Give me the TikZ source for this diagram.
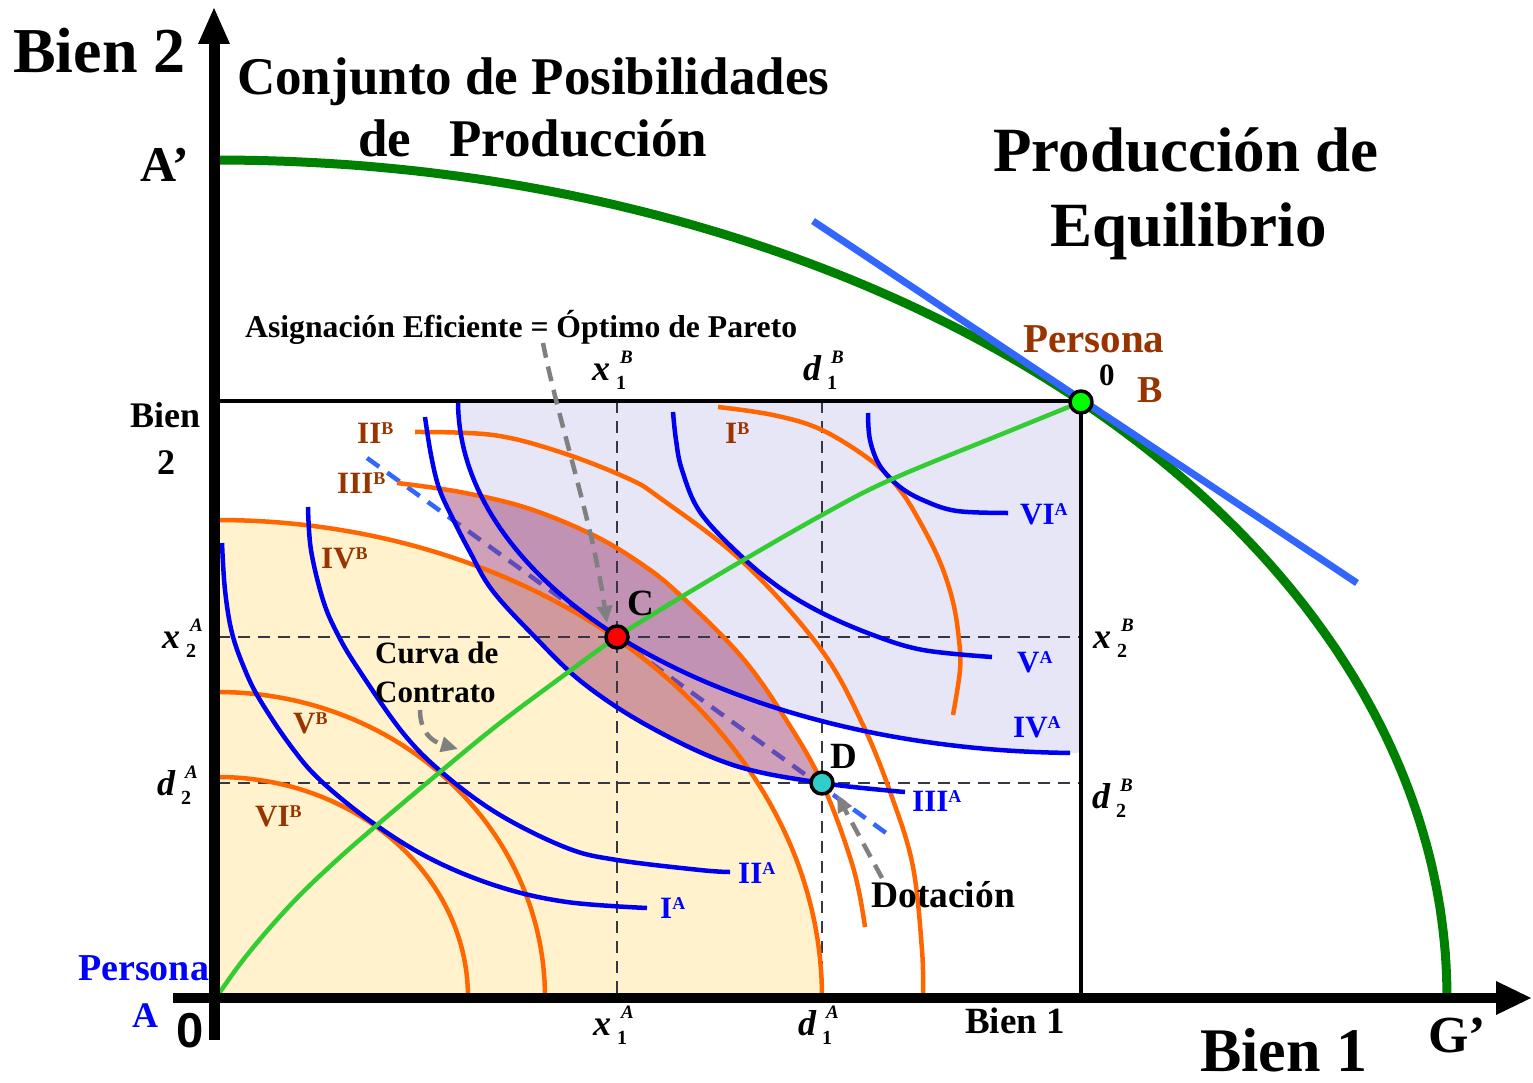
\documentclass[tikz,border=0pt]{standalone}
\usepackage{fontspec}
\setmainfont{Liberation Serif}
\newfontfamily\arialf{Liberation Sans}
\usetikzlibrary{arrows.meta}
\definecolor{orC}{RGB}{255,102,0}
\definecolor{blC}{RGB}{0,0,240}
\definecolor{brC}{RGB}{153,51,0}
\definecolor{lbC}{RGB}{0,0,255}
\definecolor{grC}{RGB}{51,204,51}
\definecolor{ppfC}{RGB}{0,128,0}
\definecolor{tgC}{RGB}{51,102,255}
\definecolor{yelC}{RGB}{255,242,204}
\definecolor{lavC}{RGB}{230,230,246}
\definecolor{lensC}{RGB}{150,45,100}
\definecolor{guideC}{RGB}{55,55,68}
\definecolor{arrC}{RGB}{128,128,128}
\definecolor{cyC}{RGB}{51,204,204}
\newcommand\setfs[1]{\fontsize{#1}{#1}\selectfont}
\newcommand\rlab[2]{\setfs{31}\bfseries #1\raisebox{9pt}{\setfs{18}\bfseries #2}}
\newcommand\vlab[3]{{\setfs{36}\bfseries\itshape #1}\hspace{6pt}\rlap{\hspace{4pt}\raisebox{17pt}{\setfs{19}\bfseries\itshape #2}}\raisebox{-9pt}{\setfs{20}\bfseries #3}}
\begin{document}
\begin{tikzpicture}[x=1pt,y=-1pt,line join=round,
  orc/.style={draw=orC,line width=4.5pt},
  blc/.style={draw=blC,line width=4.5pt},
  sm/.style={smooth,tension=0.6},
  guide/.style={draw=guideC,line width=2.8pt,dash pattern=on 12pt off 8pt},
  garrow/.style={draw=arrC,line width=4.5pt,dash pattern=on 15pt off 9pt,-{Triangle[length=17pt,width=15pt]}},
  ptn/.style={circle,draw=black,line width=3.5pt,minimum size=22pt,inner sep=0pt},
  txt/.style={inner sep=0pt,anchor=base west}]
\useasboundingbox (0,0) rectangle (1533,1083);
% regions
\fill[yelC] (218,997) -- plot[domain=90:0,samples=80] ({218+604*cos(\x)},{997-477*sin(\x)}) -- cycle;
\fill[lavC] (458,401) -- plot[domain=0:89,samples=80] ({1081-623*cos(\x)},{401+352*sin(\x)}) -- (1081,753) -- (1081,401) -- cycle;
% budget line
\coordinate (bl1) at (367,458);
\coordinate (bl2) at (893,838);
\draw[tgC,line width=4.5pt,dash pattern=on 15pt off 10pt] (bl1) -- (bl2);
% lens
\begin{scope}
\clip plot[sm] coordinates {(397,483) (460,492) (527,508) (593,535) (643,565) (680,595) (740,655) (783,715) (822,783) (853,867) (865,927)} -- (865,1083) -- (0,1083) -- (0,483) -- cycle;
\fill[lensC,fill opacity=0.45] plot[sm] coordinates {(425,417) (431,455) (439,488) (452,517) (470,552) (492,590) (533,635) (583,683) (650,727) (733,765) (822,783) (905,792)} -- (1200,792) -- (1200,300) -- (425,300) -- cycle;
\end{scope}
% guides
\draw[guide] (617,401) -- (617,997);
\draw[guide] (822,401) -- (822,997);
\draw[guide] (218,637) -- (1081,637);
\draw[guide] (218,783) -- (1081,783);
% orange curves (B)
\draw[orc] plot[sm] coordinates {(718,407) (773,415) (822,430) (873,462) (900,490) (920,522) (940,562) (953,602) (959,640) (960,670) (953,715)};
\draw[orc] plot[sm] coordinates {(415,432) (493,435) (560,452) (627,478) (660,498) (743,562) (820,648) (863,725) (893,800) (913,867) (922,950) (923,993)};
\draw[orc] plot[sm] coordinates {(397,483) (460,492) (527,508) (593,535) (643,565) (680,595) (740,655) (783,715) (822,783) (853,867) (865,927)};
\draw[orc] plot[domain=90:0,samples=80] ({218+604*cos(\x)},{997-477*sin(\x)});
\draw[orc] plot[domain=90:0,samples=60] ({218+327*cos(\x)},{997-305*sin(\x)});
\draw[orc] plot[domain=90:0,samples=60] ({218+250*cos(\x)},{997-220*sin(\x)});
% blue curves (A)
\draw[blc] plot[sm] coordinates {(222,543) (225,590) (232,633) (245,670) (260,700) (290,745) (320,780) (373,823) (433,860) (500,887) (567,902) (647,908)};
\draw[blc] plot[sm] coordinates {(308,507) (311,550) (323,600) (337,633) (357,667) (403,733) (445,775) (500,815) (567,848) (617,860) (700,870) (730,872)};
\draw[blc] plot[sm] coordinates {(425,417) (431,455) (439,488) (452,517) (470,552) (492,590) (533,635) (583,683) (650,727) (733,765) (822,783) (905,792)};
\draw[blc] plot[domain=0:89,samples=80] ({1081-623*cos(\x)},{401+352*sin(\x)});
\draw[blc] plot[sm] coordinates {(673,412) (676,440) (682,470) (700,512) (740,555) (780,588) (822,613) (873,635) (923,650) (992,657)};
\draw[blc] plot[sm] coordinates {(868,413) (870,440) (880,466) (900,487) (925,501) (957,511) (1008,513)};
% contract curve
\draw[grC,line width=4.5pt] plot[sm] coordinates {(218,995) (240,964) (267,931) (300,895) (338,859) (377,825) (440,772) (500,723) (567,673) (617,637) (673,602) (740,562) (822,515) (890,480) (1007,432) (1081,402)};
% box
\draw[line width=3.5pt] (216,401) -- (1081,401) -- (1081,997);
% PPF and tangent
\draw[ppfC,line width=9pt] plot[domain=90:0,samples=120] ({218+1229*cos(\x)},{997-837*sin(\x)});
\draw[tgC,line width=7pt] (813,221) -- (1357,583);
% axes
\draw[line width=11pt] (214,1040) -- (214,40);
\fill (214,8) -- (198,44) -- (230,44) -- cycle;
\draw[line width=10pt] (173,998) -- (1500,998);
\fill (1531,998) -- (1496,981) -- (1496,1015) -- cycle;
% points
\node[ptn,fill=green] (B) at (1081,402) {};
\node[ptn,fill=red] (C) at (617,637) {};
\node[ptn,fill=cyC] (D) at (822,783) {};
% gray arrows
\coordinate (a1s) at (543,343);
\coordinate (a1e) at (607,623);
\coordinate (a2s) at (420,710);
\coordinate (a2e) at (458,749);
\coordinate (a3s) at (882,878);
\coordinate (a3e) at (837,795);
\draw[garrow] (a1s) .. controls (558,420) and (592,520) .. (a1e);
\draw[garrow] (a2s) .. controls (420,730) and (430,741) .. (a2e);
\draw[garrow] (a3s) -- (a3e);
% titles
\node[txt] (tB2) at (13,73) {\setfs{64}\bfseries Bien 2};
\node[txt] (tCj) at (237,95) {\setfs{53}\bfseries Conjunto de Posibilidades};
\node[txt] (tdP) at (358,157) {\setfs{53}\bfseries de\hspace{38pt}Producción};
\node[txt] (tAp) at (140,182) {\setfs{50}\bfseries A’};
\node[txt] (tPE) at (993,172) {\setfs{63}\bfseries Producción de};
\node[txt] (tEq) at (1050,247) {\setfs{63}\bfseries Equilibrio};
\node[txt] (tAs) at (245,337) {\setfs{31.7}\bfseries Asignación Eficiente = Óptimo de Pareto};
\node[txt,text=brC] (tPB) at (1023,352) {\setfs{41}\bfseries Persona};
\node[txt] (t0B) at (1099,385) {\setfs{31}\bfseries 0};
\node[txt,text=brC] (tBB) at (1137,402) {\setfs{38}\bfseries B};
\node[txt] (x1B) at (592,380) {\vlab{x}{B}{1}};
\node[txt] (d1B) at (803,380) {\vlab{d}{B}{1}};
\node[txt] (tBi) at (130,427) {\setfs{36}\bfseries Bien};
\node[txt] (tB2s) at (157,474) {\setfs{36}\bfseries 2};
% B labels
\node[txt,text=brC] (lIB) at (725,443) {\rlab{I}{B}};
\node[txt,text=brC] (lIIB) at (357,443) {\rlab{II}{B}};
\node[txt,text=brC] (lIIIB) at (337,493) {\rlab{III}{B}};
\node[txt,text=brC] (lIVB) at (321,568) {\rlab{IV}{B}};
\node[txt,text=brC] (lVB) at (293,733) {\rlab{V}{B}};
\node[txt,text=brC] (lVIB) at (255,826) {\rlab{VI}{B}};
% A labels
\node[txt,text=lbC] (lVIA) at (1020,524) {\rlab{VI}{A}};
\node[txt,text=lbC] (lVA) at (1017,672) {\rlab{V}{A}};
\node[txt,text=lbC] (lIVA) at (1013,737) {\rlab{IV}{A}};
\node[txt,text=lbC] (lIIIA) at (912,811) {\rlab{III}{A}};
\node[txt,text=lbC] (lIIA) at (738,883) {\rlab{II}{A}};
\node[txt,text=lbC] (lIA) at (660,918) {\rlab{I}{A}};
% point labels
\node[txt] (tC) at (627,615) {\setfs{37}\bfseries C};
\node[txt] (tD) at (830,768) {\setfs{37}\bfseries D};
% side variables
\node[txt] (x2A) at (162,648) {\vlab{x}{A}{2}};
\node[txt] (d2A) at (157,795) {\vlab{d}{A}{2}};
\node[txt] (x2B) at (1093,648) {\vlab{x}{B}{2}};
\node[txt] (d2B) at (1092,808) {\vlab{d}{B}{2}};
\node[txt] (x1A) at (593,1035) {\vlab{x}{A}{1}};
\node[txt] (d1A) at (798,1035) {\vlab{d}{A}{1}};
% other texts
\node[txt] (tCu) at (375,663) {\setfs{31}\bfseries Curva de};
\node[txt] (tCo) at (375,702) {\setfs{31}\bfseries Contrato};
\node[txt] (tDo) at (871,907) {\setfs{37.5}\bfseries Dotación};
\node[txt,text=lbC] (tPA) at (78,980) {\setfs{38}\bfseries Persona};
\node[txt,text=lbC] (tAA) at (132,1027) {\setfs{36}\bfseries A};
\node[txt] (t0A) at (176,1047) {\arialf\setfs{49}\bfseries 0};
\node[txt] (tB1s) at (965,1033) {\setfs{37}\bfseries Bien 1};
\node[txt] (tB1) at (1200,1071) {\setfs{62}\bfseries Bien 1};
\node[txt] (tGp) at (1428,1052) {\setfs{52}\bfseries G’};
\end{tikzpicture}
\end{document}
